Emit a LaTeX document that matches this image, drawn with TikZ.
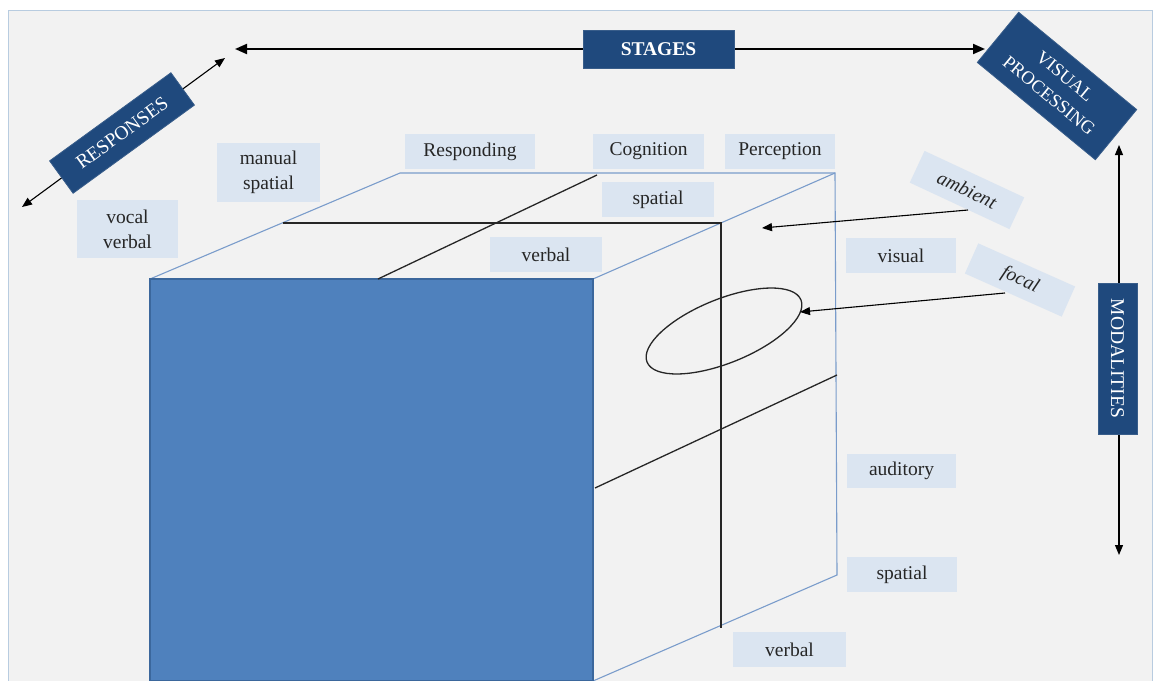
\documentclass[tikz,border=0pt]{standalone}
\usepackage{fontspec}
\setmainfont{Liberation Serif}
\usetikzlibrary{arrows.meta,shapes.geometric}
\definecolor{bgc}{HTML}{F2F2F2}
\definecolor{framec}{HTML}{B8CCE0}
\definecolor{lblc}{HTML}{DBE5F1}
\definecolor{darkc}{HTML}{1F497D}
\definecolor{darkedgec}{HTML}{385D8A}
\definecolor{facec}{HTML}{4F81BD}
\definecolor{faceedgec}{HTML}{3B679C}
\definecolor{edgec}{HTML}{7A9CCB}
\definecolor{inkc}{HTML}{262626}
\begin{document}
\begin{tikzpicture}[x=1pt,y=-1pt,
  lbl/.style={fill=lblc, text=inkc, inner sep=0pt, align=center, font=\fontsize{19.5}{25}\selectfont},
  hdr/.style={fill=darkc, draw=darkedgec, line width=0.8pt, text=white, inner sep=0pt, align=center, font=\fontsize{19.5}{22}\selectfont},
  cubeedge/.style={draw=edgec, line width=1.1pt},
  divider/.style={draw=inkc, line width=1.3pt},
  arr/.style={draw=black, line width=1.1pt, -{Triangle[length=10pt,width=8pt]}},
  biarr/.style={draw=black, line width=1.1pt, {Triangle[length=10pt,width=8pt]}-{Triangle[length=10pt,width=8pt]}},
  bigarr/.style={draw=black, line width=2pt, {Triangle[length=12pt,width=10pt]}-{Triangle[length=12pt,width=10pt]}}
]
\useasboundingbox (0,0) rectangle (1159,680);
% background frame
\fill[white] (0,0) rectangle (1159,680);
\draw[fill=bgc, draw=framec, line width=1pt] (8,10) rectangle (1152,690);

% cube corners
\coordinate (FTL) at (150,279);
\coordinate (FTR) at (593,279);
\coordinate (FBR) at (593,681);
\coordinate (FBL) at (150,681);
\coordinate (BTL) at (400,173);
\coordinate (BTR) at (835,173);
\coordinate (BBR) at (837,575);

% cube edges
\draw[cubeedge] (FTL) -- (BTL) -- (BTR) -- (BBR) -- (FBR);
\draw[cubeedge] (FTR) -- (BTR);

% front face
\draw[fill=facec, draw=faceedgec, line width=1.2pt] (FTL) rectangle (FBR);

% divider lines
\coordinate (c1) at (597,175);
\coordinate (c2) at (378,279);
\coordinate (h1) at (283,223);
\coordinate (h2) at (721,223);
\coordinate (h3) at (721,628);
\coordinate (r1) at (595,488);
\coordinate (r2) at (837,375);
\draw[divider] (c1) -- (c2);
\draw[divider] (h1) -- (h2) -- (h3);
\draw[divider] (r1) -- (r2);

% ellipse
\node[ellipse, draw=inkc, line width=1.3pt, minimum width=166, minimum height=64, inner sep=0pt, rotate=22] (ell) at (724,331) {};

% labels
\node[lbl, minimum width=103, minimum height=59] (manual) at (268.5,172.5) {manual\\spatial};
\node[lbl, minimum width=101, minimum height=58] (vocal) at (127.5,229) {vocal\\verbal};
\node[lbl, minimum width=130, minimum height=35] (resp) at (470,151.5) {Responding};
\node[lbl, minimum width=111, minimum height=35] (cogn) at (648.5,151.5) {Cognition};
\node[lbl, minimum width=110, minimum height=35] (perc) at (780,151.5) {Perception};
\node[lbl, minimum width=112, minimum height=35] (spatialtop) at (658,199.5) {spatial};
\node[lbl, minimum width=112, minimum height=35] (verbaltop) at (546,254.5) {verbal};
\node[lbl, minimum width=110, minimum height=35] (visual) at (901,255.5) {visual};
\node[lbl, minimum width=109, minimum height=34] (auditory) at (901.5,471) {auditory};
\node[lbl, minimum width=110, minimum height=35] (spatialbr) at (902,574.5) {spatial};
\node[lbl, minimum width=113, minimum height=35] (verbalbot) at (789.5,649.5) {verbal};
\node[lbl, minimum width=110, minimum height=35, rotate=-25, font=\fontsize{19.5}{25}\selectfont\itshape] (ambient) at (967,190) {ambient};
\node[lbl, minimum width=106, minimum height=33, rotate=-24, font=\fontsize{19.5}{25}\selectfont\itshape] (focal) at (1020,280) {focal};

% ambient / focal arrows
\coordinate (amb1) at (968,210);
\coordinate (amb2) at (762,228);
\coordinate (foc1) at (1005,293);
\coordinate (foc2) at (800,312);
\draw[arr] (amb1) -- (amb2);
\draw[arr] (foc1) -- (foc2);

% stages arrow
\coordinate (st1) at (235,49);
\coordinate (st2) at (985,49);
\draw[bigarr] (st1) -- (st2);
\node[hdr, minimum width=151, minimum height=38, font=\fontsize{19.5}{22}\selectfont\bfseries] (stages) at (658.5,49) {STAGES};

% responses arrow
\coordinate (re1) at (225,58);
\coordinate (re2) at (22,207);
\draw[biarr] (re1) -- (re2);
\node[hdr, minimum width=150, minimum height=40, rotate=36] (responses) at (122,133) {RESPONSES};

% modalities arrow
\coordinate (mo1) at (1119,145);
\coordinate (mo2) at (1119,555);
\draw[biarr] (mo1) -- (mo2);
\node[hdr, minimum width=151, minimum height=39, rotate=-90] (modal) at (1117.5,358.5) {MODALITIES};

% visual processing
\node[hdr, minimum width=153, minimum height=65, rotate=-39.5, font=\fontsize{18.5}{25}\selectfont] (vp) at (1057,86) {VISUAL\\PROCESSING};
\end{tikzpicture}
\end{document}
